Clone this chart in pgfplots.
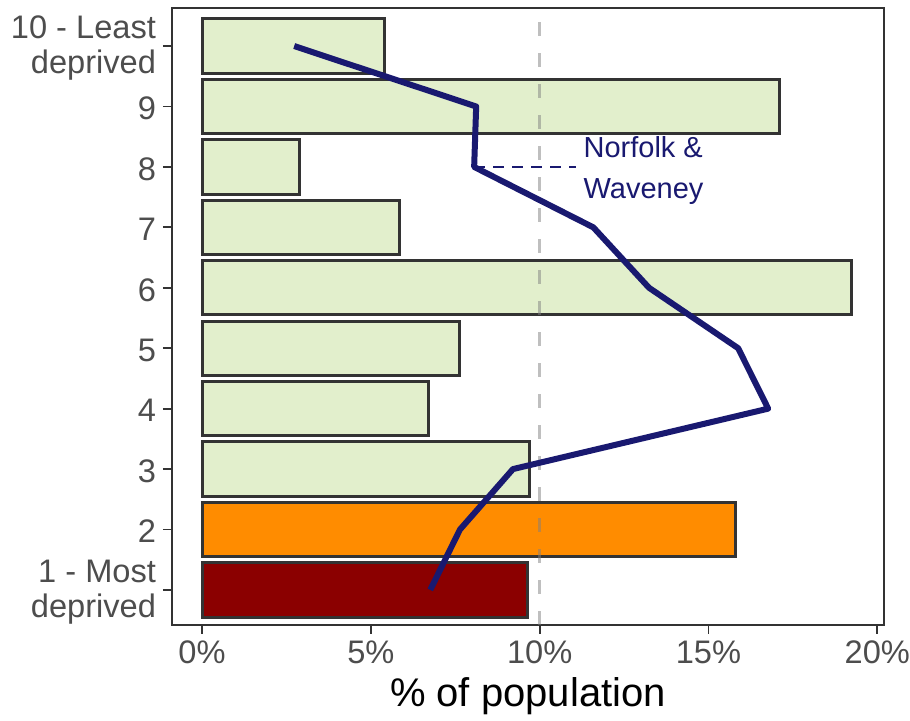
\documentclass[border=0pt]{standalone}
\usepackage{pgfplots}
\pgfplotsset{compat=1.18}
\usepackage{fontspec}
\setmainfont{Liberation Sans}
\definecolor{barg}{HTML}{E2EFCC}
\definecolor{barorange}{HTML}{FF8C00}
\definecolor{barred}{HTML}{8B0000}
\definecolor{navyline}{HTML}{191970}
\definecolor{framec}{HTML}{333333}
\definecolor{ticklab}{HTML}{4D4D4D}
\begin{document}
\begin{tikzpicture}
\useasboundingbox (-86pt,-48pt) rectangle (369pt,312.5pt);
\begin{axis}[
  at={(0,0)}, anchor=south west,
  scale only axis, width=356pt, height=308.5pt,
  xmin=-0.89, xmax=20.2, ymin=0.42, ymax=10.63,
  axis line style={framec, line width=0.9pt},
  xtick={0,5,10,15,20}, xticklabels={0\%,5\%,10\%,15\%,20\%},
  ytick={1,2,3,4,5,6,7,8,9,10},
  yticklabels={{1 - Most\\deprived},2,3,4,5,6,7,8,9,{10 - Least\\deprived}},
  tick align=outside, xtick pos=bottom, ytick pos=left,
  major tick length=4.5pt,
  every tick/.style={framec, line width=0.9pt},
  ticklabel style={font=\fontsize{16.3}{17.5}\selectfont, text=ticklab},
  yticklabel style={align=right, yshift=-1pt},
  xlabel={\% of population},
  xlabel style={font=\fontsize{20}{22}\selectfont, text=black},
]
\addplot[xbar, bar width=0.9, bar shift=0pt, fill=barg, draw=framec, line width=1.5pt]
  coordinates {(9.69,3) (6.70,4) (7.64,5) (19.23,6) (5.84,7) (2.90,8) (17.10,9) (5.39,10)};
\addplot[xbar, bar width=0.9, bar shift=0pt, fill=barorange, draw=framec, line width=1.5pt]
  coordinates {(15.79,2)};
\addplot[xbar, bar width=0.9, bar shift=0pt, fill=barred, draw=framec, line width=1.5pt]
  coordinates {(9.63,1)};
\addplot[gray, opacity=0.5, line width=1.6pt, dash pattern=on 7pt off 8.5pt, no marks]
  coordinates {(10,0.42) (10,10.63)};
\addplot[navyline, line width=1.3pt, dash pattern=on 5.5pt off 4pt, no marks]
  coordinates {(8.06,8) (11.08,8)};
\addplot[navyline, line width=3pt, line join=round, no marks]
  coordinates {(6.76,1) (7.64,2) (9.21,3) (16.77,4) (15.88,5) (13.24,6) (11.59,7) (8.06,8) (8.12,9) (2.73,10)};
\node[anchor=west, align=left, text=navyline, font=\fontsize{14.5}{20.5}\selectfont, inner sep=0pt, yshift=-2pt]
  at (axis cs:11.29,8) {Norfolk \&\\Waveney};
\end{axis}
\end{tikzpicture}
\end{document}
